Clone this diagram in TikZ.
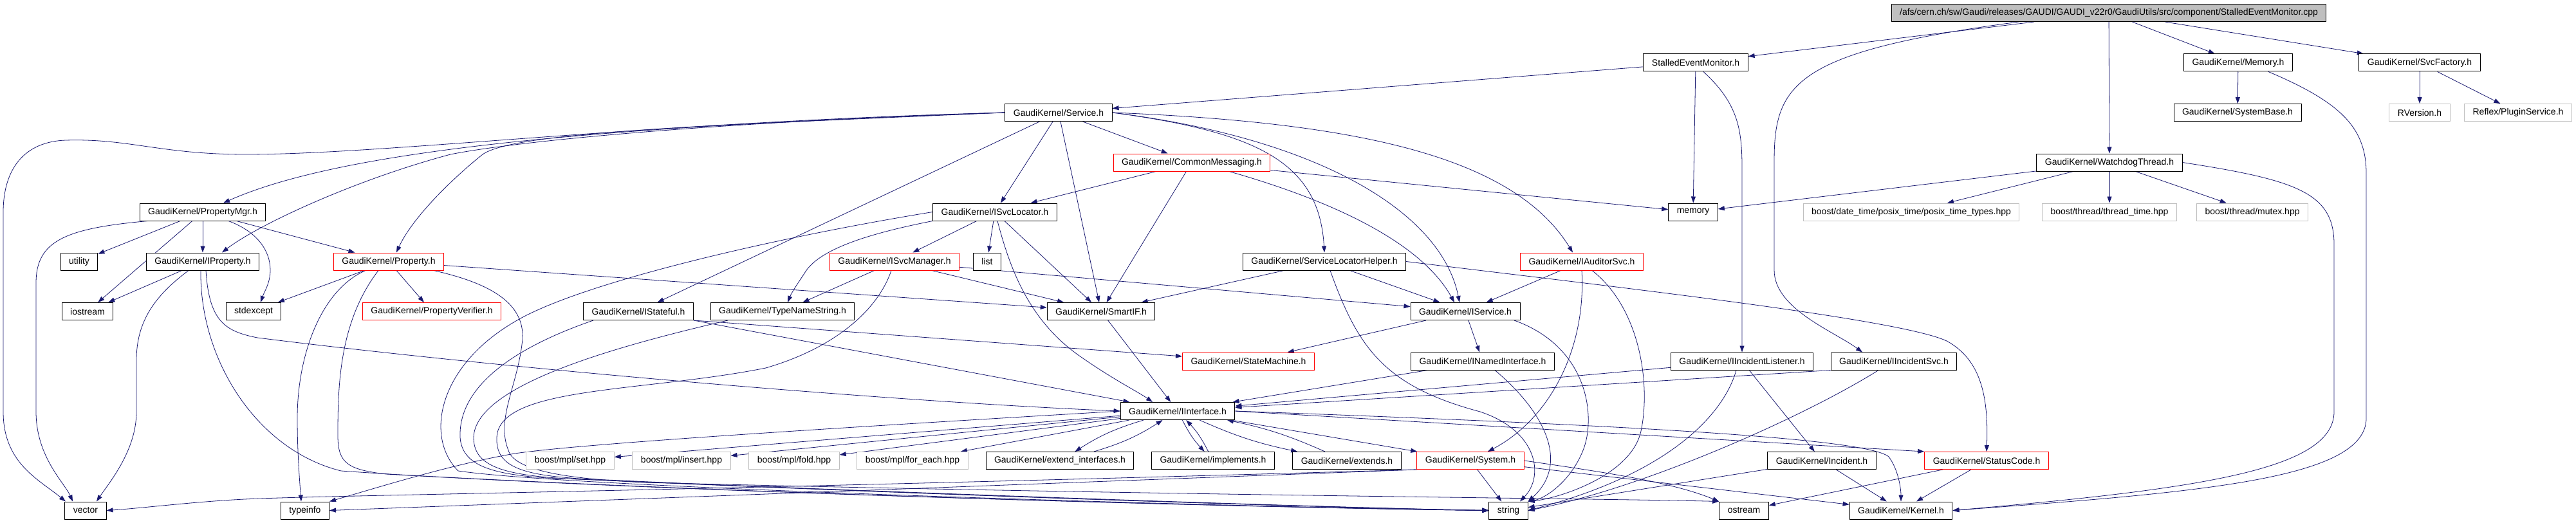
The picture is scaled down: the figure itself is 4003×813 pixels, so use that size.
\documentclass[tikz,border=0pt]{standalone}
\usepackage{fontspec}
\setmainfont{Liberation Sans}
\usetikzlibrary{arrows.meta,backgrounds}

\definecolor{depblue}{HTML}{191970}
\definecolor{sysgray}{HTML}{BFBFBF}

\tikzset{
  hdr/.style={draw=black, fill=white, line width=1pt, font=\fontsize{14}{16}\selectfont,
    inner xsep=13pt, inner ysep=0pt, minimum height=27pt},
  hdrred/.style={hdr, draw=red},
  syshdr/.style={hdr, draw=sysgray},
  mainhdr/.style={hdr, fill=sysgray},
  dep/.style={draw=depblue, line width=0.8pt, -{Triangle[length=10pt,width=7pt]}},
}

\begin{document}
\begin{tikzpicture}[x=1pt,y=-1pt]
\useasboundingbox (0,0) rectangle (4003,813);

% Source file
\node[mainhdr] (main) at (3277,20) {/afs/cern.ch/sw/Gaudi/releases/GAUDI/GAUDI\_v22r0/GaudiUtils/src/component/StalledEventMonitor.cpp};

% Row 1
\node[hdr] (semh) at (2635,97.5) {StalledEventMonitor.h};
\node[hdr] (memoryh) at (3478,97.5) {GaudiKernel/Memory.h};
\node[hdr] (svcfactory) at (3760,97.5) {GaudiKernel/SvcFactory.h};

% Row 2
\node[hdr] (service) at (1645,175) {GaudiKernel/Service.h};
\node[hdr] (systembase) at (3477,175) {GaudiKernel/SystemBase.h};
\node[syshdr] (rversion) at (3760,175) {RVersion.h};
\node[syshdr] (pluginsvc) at (3913,175) {Reflex/PluginService.h};

% Row 3
\node[hdrred] (commonmsg) at (1852,252.5) {GaudiKernel/CommonMessaging.h};
\node[hdr] (watchdog) at (3278,252.5) {GaudiKernel/WatchdogThread.h};

% Row 4
\node[hdr] (propmgr) at (315,329.5) {GaudiKernel/PropertyMgr.h};
\node[hdr] (isvcloc) at (1546,329.5) {GaudiKernel/ISvcLocator.h};
\node[hdr] (memory) at (2631,329.5) {memory};
\node[syshdr] (posixtime) at (2970,329.5) {boost/date\_time/posix\_time/posix\_time\_types.hpp};
\node[syshdr] (threadtime) at (3278,329.5) {boost/thread/thread\_time.hpp};
\node[syshdr] (mutex) at (3500,329.5) {boost/thread/mutex.hpp};

% Row 5
\node[hdr] (utility) at (123,406.5) {utility};
\node[hdr] (iproperty) at (315,406.5) {GaudiKernel/IProperty.h};
\node[hdrred] (property) at (604,406.5) {GaudiKernel/Property.h};
\node[hdrred] (isvcmgr) at (1390,406.5) {GaudiKernel/ISvcManager.h};
\node[hdr] (list) at (1534,406.5) {list};
\node[hdr] (slhelper) at (2058,406.5) {GaudiKernel/ServiceLocatorHelper.h};
\node[hdrred] (iauditor) at (2458,406.5) {GaudiKernel/IAuditorSvc.h};

% Row 6
\node[hdr] (iostream) at (136,484) {iostream};
\node[hdr] (stdexcept) at (394,484) {stdexcept};
\node[hdrred] (propverifier) at (671,484) {GaudiKernel/PropertyVerifier.h};
\node[hdr] (istateful) at (992,484) {GaudiKernel/IStateful.h};
\node[hdr] (typename) at (1216,484) {GaudiKernel/TypeNameString.h};
\node[hdr] (smartif) at (1711,484) {GaudiKernel/SmartIF.h};
\node[hdr] (iservice) at (2277,484) {GaudiKernel/IService.h};

% Row 7
\node[hdrred] (statemachine) at (1940,561.5) {GaudiKernel/StateMachine.h};
\node[hdr] (inamed) at (2304,561.5) {GaudiKernel/INamedInterface.h};
\node[hdr] (iinclistener) at (2707,561.5) {GaudiKernel/IIncidentListener.h};
\node[hdr] (iincsvc) at (2943,561.5) {GaudiKernel/IIncidentSvc.h};

% Row 8
\node[hdr] (iinterface) at (1830,639) {GaudiKernel/IInterface.h};

% Row 9
\node[syshdr] (mplset) at (886,716) {boost/mpl/set.hpp};
\node[syshdr] (mplinsert) at (1059,716) {boost/mpl/insert.hpp};
\node[syshdr] (mplfold) at (1234,716) {boost/mpl/fold.hpp};
\node[syshdr] (mplforeach) at (1418,716) {boost/mpl/for\_each.hpp};
\node[hdr] (extendif) at (1647,716) {GaudiKernel/extend\_interfaces.h};
\node[hdr] (implements) at (1885,716) {GaudiKernel/implements.h};
\node[hdr] (extends) at (2093,716) {GaudiKernel/extends.h};
\node[hdrred] (system) at (2285,716) {GaudiKernel/System.h};
\node[hdr] (incident) at (2831,716) {GaudiKernel/Incident.h};
\node[hdrred] (statuscode) at (3087,716) {GaudiKernel/StatusCode.h};

% Row 10
\node[hdr] (vector) at (133,793.5) {vector};
\node[hdr] (typeinfo) at (474,793.5) {typeinfo};
\node[hdr] (string) at (2344,793.5) {string};
\node[hdr] (ostream) at (2710,793.5) {ostream};
\node[hdr] (kernel) at (2954,793.5) {GaudiKernel/Kernel.h};

\begin{scope}[on background layer]
% Source file includes
\draw[dep] (main) -- (semh);
\draw[dep] ([xshift=-140pt]main.south) .. controls (2790,80) and (2757,130) .. (2757,250) -- (2757,420) .. controls (2757,480) and (2850,515) .. ([xshift=-49pt]iincsvc.north);
\draw[dep] (main) -- (watchdog);
\draw[dep] (main) -- (memoryh);
\draw[dep] (main) -- (svcfactory);

% StalledEventMonitor.h
\draw[dep] (semh) -- (service);
\draw[dep] (semh) -- (memory);
\draw[dep] ([xshift=12pt]semh.south) .. controls (2700,160) and (2707,200) .. (2707,260) -- (iinclistener.north);

% Memory.h and SvcFactory.h
\draw[dep] (memoryh) -- (systembase);
\draw[dep] ([xshift=47pt]memoryh.south) .. controls (3640,160) and (3677,200) .. (3677,270) -- (3677,650) .. controls (3677,745) and (3420,765) .. (kernel.east);
\draw[dep] (svcfactory) -- (rversion);
\draw[dep] (svcfactory) -- (pluginsvc);

% WatchdogThread.h
\draw[dep] (watchdog) -- (memory);
\draw[dep] (watchdog) -- (posixtime);
\draw[dep] (watchdog) -- (threadtime);
\draw[dep] (watchdog) -- (mutex);
\draw[dep] (watchdog.east) .. controls (3570,280) and (3627,300) .. (3627,380) -- (3627,640) .. controls (3627,730) and (3420,760) .. (kernel.east);

% Service.h
\draw[dep] (service.west) .. controls (1000,195) and (550,225) .. ([xshift=32pt]propmgr.north);
\draw[dep] (service.west) .. controls (1000,190) and (600,240) .. (382,240) .. controls (250,240) and (200,215) .. (102,218) .. controls (40,220) and (5,260) .. (5,330) -- (5,640) .. controls (5,720) and (60,745) .. ([xshift=-31pt]vector.north);
\draw[dep] (service.west) .. controls (1100,190) and (800,220) .. (700,240) .. controls (550,280) and (400,350) .. ([xshift=30pt]iproperty.north);
\draw[dep] (service.west) .. controls (1100,195) and (800,205) .. (750,240) .. controls (700,280) and (640,340) .. ([xshift=12pt]property.north);
\draw[dep] (service) -- (isvcloc);
\draw[dep] (service) -- (commonmsg);
\draw[dep] (service) -- (istateful);
\draw[dep] (service) -- (smartif);
\draw[dep] (service.east) .. controls (1950,205) and (2050,250) .. (slhelper.north);
\draw[dep] (service.east) .. controls (2050,215) and (2240,330) .. ([xshift=-9pt]iservice.north);
\draw[dep] (service.east) .. controls (2100,190) and (2350,240) .. ([xshift=-14pt]iauditor.north);

% CommonMessaging.h
\draw[dep] (commonmsg) -- (isvcloc);
\draw[dep] (commonmsg) -- (smartif);
\draw[dep] (commonmsg) -- (memory);
\draw[dep] ([xshift=58pt]commonmsg.south) .. controls (2080,315) and (2210,380) .. ([xshift=-17pt]iservice.north);

% PropertyMgr.h
\draw[dep] (propmgr) -- (utility);
\draw[dep] (propmgr) -- (iproperty);
\draw[dep] (propmgr) -- (property);
\draw[dep] (propmgr) -- (iostream);
\draw[dep] ([xshift=40pt]propmgr.south) .. controls (400,360) and (420,390) .. (420,420) .. controls (420,440) and (410,455) .. ([xshift=11pt]stdexcept.north);
\draw[dep] ([xshift=-85pt]propmgr.south) .. controls (100,355) and (56,375) .. (56,440) -- (56,640) .. controls (56,710) and (100,750) .. ([xshift=-20pt]vector.north);

% IProperty.h
\draw[dep] (iproperty) -- (iostream);
\draw[dep] ([xshift=-22pt]iproperty.south) .. controls (240,460) and (212,500) .. (212,560) -- (212,640) .. controls (212,700) and (170,750) .. ([xshift=17pt]vector.north);
\draw[dep] ([xshift=-3pt]iproperty.south) .. controls (310,560) and (400,700) .. (530,732) .. controls (1000,765) and (2000,790) .. (string.west);
\draw[dep] ([xshift=5pt]iproperty.south) .. controls (325,500) and (350,515) .. (400,525) .. controls (800,575) and (1400,625) .. (iinterface.west);

% Property.h
\draw[dep] (property) -- (stdexcept);
\draw[dep] (property) -- (propverifier);
\draw[dep] (property) -- (smartif);
\draw[dep] ([xshift=-36pt]property.south) .. controls (500,450) and (462,550) .. (462,650) .. controls (462,700) and (465,740) .. ([xshift=-6pt]typeinfo.north);
\draw[dep] ([xshift=-16pt]property.south) .. controls (527,500) and (525,600) .. (525,677) .. controls (525,720) and (540,730) .. (600,737) .. controls (1200,770) and (2000,790) .. (string.west);
\draw[dep] ([xshift=70pt]property.south) .. controls (760,440) and (815,470) .. (812,527) .. controls (805,600) and (770,650) .. (790,700) .. controls (800,735) and (900,745) .. (1000,750) .. controls (1800,770) and (2500,775) .. (ostream.north west);

% ISvcLocator.h
\draw[dep] (isvcloc) -- (isvcmgr);
\draw[dep] (isvcloc) -- (list);
\draw[dep] (isvcloc) -- (smartif);
\draw[dep] ([xshift=4pt]isvcloc.south) .. controls (1570,420) and (1600,500) .. (1680,555) .. controls (1730,590) and (1770,610) .. ([xshift=-39pt]iinterface.north);
\draw[dep] (isvcloc.south west) .. controls (1340,365) and (1270,390) .. (1250,425) .. controls (1240,440) and (1230,455) .. ([xshift=8pt]typename.north);
\draw[dep] (isvcloc.west) .. controls (1200,370) and (900,440) .. (800,500) .. controls (680,570) and (660,680) .. (712,732) .. controls (900,760) and (2000,790) .. (string.west);

% ISvcManager.h
\draw[dep] (isvcmgr) -- (typename);
\draw[dep] (isvcmgr) -- (smartif);
\draw[dep] (isvcmgr) -- (iservice);
\draw[dep] ([xshift=-5pt]isvcmgr.south) .. controls (1365,480) and (1300,540) .. (1190,572) .. controls (1000,610) and (775,600) .. (772,680) .. controls (770,725) and (810,738) .. (900,744) .. controls (1500,772) and (2100,790) .. (string.west);

% ServiceLocatorHelper.h
\draw[dep] (slhelper) -- (iservice);
\draw[dep] (slhelper) -- (smartif);
\draw[dep] ([xshift=9pt]slhelper.south) .. controls (2110,540) and (2150,600) .. (2300,640) .. controls (2390,670) and (2400,740) .. ([xshift=18pt]string.north);
\draw[dep] (slhelper.east) .. controls (2500,445) and (2950,495) .. (3025,530) .. controls (3080,560) and (3090,620) .. (statuscode.north);

% IAuditorSvc.h
\draw[dep] (iauditor) -- (iservice);
\draw[dep] (iauditor.south) .. controls (2465,540) and (2410,650) .. ([xshift=27pt]system.north);
\draw[dep] ([xshift=16pt]iauditor.south) .. controls (2550,480) and (2565,600) .. (2550,670) .. controls (2535,740) and (2420,775) .. (string.north east);

% IStateful.h, TypeNameString.h, SmartIF.h
\draw[dep] (istateful.south east) -- (statemachine);
\draw[dep] (istateful.south east) -- (iinterface);
\draw[dep] ([xshift=-70pt]istateful.south) .. controls (800,540) and (712,600) .. (715,680) .. controls (718,722) and (760,737) .. (850,743) .. controls (1500,770) and (2100,790) .. (string.west);
\draw[dep] ([xshift=-85pt]typename.south) .. controls (950,540) and (738,600) .. (736,680) .. controls (736,722) and (775,738) .. (880,744) .. controls (1500,772) and (2100,790) .. (string.west);
\draw[dep] (smartif) -- (iinterface);

% IService.h, INamedInterface.h
\draw[dep] (iservice) -- (statemachine);
\draw[dep] (iservice) -- (inamed);
\draw[dep] ([xshift=76pt]iservice.south) .. controls (2470,540) and (2480,650) .. (2460,700) .. controls (2440,750) and (2400,775) .. (string.north east);
\draw[dep] (inamed) -- (iinterface);
\draw[dep] ([xshift=19pt]inamed.south) .. controls (2400,640) and (2440,720) .. (string.north east);

% Incidents
\draw[dep] (iinclistener) -- (iinterface);
\draw[dep] (iinclistener) -- (incident);
\draw[dep] ([xshift=-9pt]iinclistener.south) .. controls (2680,640) and (2600,735) .. (string.east);
\draw[dep] (iincsvc.south west) -- (iinterface);
\draw[dep] ([xshift=-24pt]iincsvc.south) .. controls (2800,650) and (2550,760) .. (string.east);
\draw[dep] (incident) -- (kernel);
\draw[dep] (incident) -- (string);

% StatusCode.h, System.h
\draw[dep] (statuscode) -- (ostream);
\draw[dep] (statuscode) -- (kernel);
\draw[dep] (system) -- (string);
\draw[dep] (system) -- (kernel);
\draw[dep] (system.east) .. controls (2500,735) and (2600,750) .. (ostream.north west);
\draw[dep] (system.south west) .. controls (1000,765) and (500,770) .. (380,776) .. controls (300,780) and (220,790) .. (vector.east);
\draw[dep] (system.south west) -- (typeinfo.east);

% IInterface.h
\draw[dep] (iinterface) -- (mplset);
\draw[dep] (iinterface) -- (mplinsert);
\draw[dep] (iinterface) -- (mplfold);
\draw[dep] (iinterface) -- (mplforeach);
\draw[dep] (iinterface) to[bend right=8] (extendif);
\draw[dep] (extendif) to[bend right=8] (iinterface);
\draw[dep] (iinterface) to[bend right=8] (implements);
\draw[dep] (implements) to[bend right=8] (iinterface);
\draw[dep] (iinterface) to[bend right=6] (extends);
\draw[dep] (extends) to[bend right=6] (iinterface);
\draw[dep] (iinterface) -- (system);
\draw[dep] (iinterface.east) -- (statuscode.north west);
\draw[dep] (iinterface.east) .. controls (2500,660) and (2900,680) .. (2935,710) .. controls (2950,730) and (2954,760) .. (kernel.north);
\draw[dep] (iinterface.west) .. controls (1300,665) and (900,690) .. (800,705) .. controls (700,722) and (580,760) .. (typeinfo.north east);
\end{scope}

\end{tikzpicture}
\end{document}
